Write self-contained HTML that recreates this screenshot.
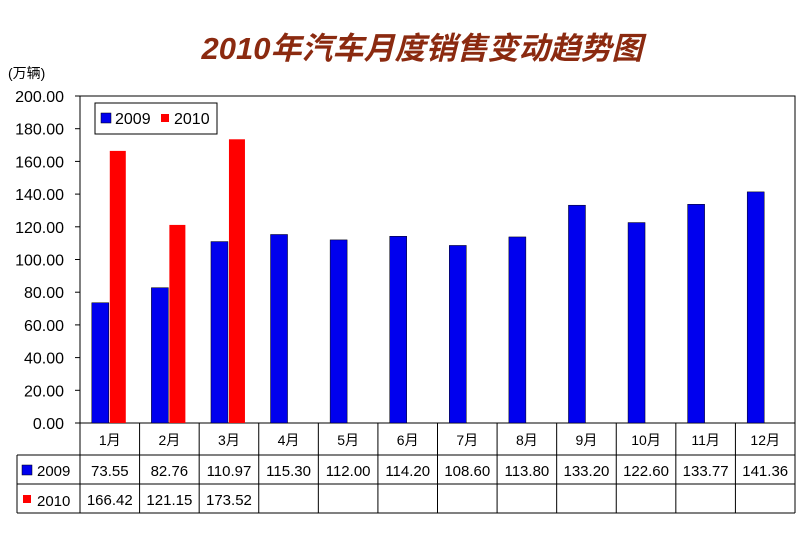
<!DOCTYPE html>
<html><head><meta charset="utf-8"><style>
body{margin:0;background:#fff;}
svg text{font-family:"Liberation Sans","Noto Sans CJK SC",sans-serif;}
</style></head><body>
<svg id="c" width="800" height="537" xmlns="http://www.w3.org/2000/svg">
<text x="422" y="59" text-anchor="middle" font-size="31" font-style="italic" font-weight="bold" fill="#8B2A10">2010年汽车月度销售变动趋势图</text>
<text x="8" y="78" font-size="14" fill="#000">(万辆)</text>
<g id="g"></g>
</svg>
<script>
const categories=["1月","2月","3月","4月","5月","6月","7月","8月","9月","10月","11月","12月"];
const s2009=[73.55,82.76,110.97,115.30,112.00,114.20,108.60,113.80,133.20,122.60,133.77,141.36];
const s2010=[166.42,121.15,173.52,null,null,null,null,null,null,null,null,null];
const yTicks=[0,20,40,60,80,100,120,140,160,180,200];
const NS="http://www.w3.org/2000/svg";
const g=document.getElementById('g');
const L=80,R=795,T=96,B=423,cw=(R-L)/categories.length;
const y=v=>B-(v/200)*(B-T);
const x=i=>L+i*cw;
function mk(t,a,txt){const e=document.createElementNS(NS,t);for(const k in a)e.setAttribute(k,a[k]);if(txt!=null)e.textContent=txt;g.appendChild(e);return e;}
let e=mk('rect',{x:L,y:T,width:R-L,height:B-T,fill:'#fff',stroke:'#000','stroke-width':1});


yTicks.forEach(v=>{
 let t=mk('text',{x:64,y:y(v)+6,'font-size':16,'text-anchor':'end'},v.toFixed(2));
 
 
 mk('line',{x1:L-5,x2:L,y1:y(v),y2:y(v),stroke:'#000'});
});
categories.forEach((c,i)=>{
 const cx=x(i)+cw/2;
 let b=mk('rect',{x:cx-18,y:y(s2009[i]),width:17,height:B-y(s2009[i]),fill:'#0000EE',stroke:'#000','stroke-width':0.5});
 
 
 if(s2010[i]!=null){
  let r=mk('rect',{x:cx,y:y(s2010[i]),width:16,height:B-y(s2010[i]),fill:'#FF0000'});
  
  
 }
 let t=mk('text',{x:cx,y:445,'font-size':14,'text-anchor':'middle'},c);
 
 
 let a=mk('text',{x:cx,y:476,'font-size':15,'text-anchor':'middle'},s2009[i].toFixed(2));
 
 
 if(s2010[i]!=null){
  let bt=mk('text',{x:cx,y:505,'font-size':15,'text-anchor':'middle'},s2010[i].toFixed(2));
  
  
 }
});
for(let i=0;i<=categories.length;i++)mk('line',{x1:x(i),x2:x(i),y1:B,y2:513,stroke:'#000'});
mk('line',{x1:17,x2:17,y1:455,y2:513,stroke:'#000'});
[455,484,513].forEach(yy=>mk('line',{x1:17,x2:R,y1:yy,y2:yy,stroke:'#000'}));
mk('rect',{x:22,y:465,width:10,height:10,fill:'#0000EE',stroke:'#000','stroke-width':0.5});
let l1=mk('text',{x:37,y:476,'font-size':15},'2009');


mk('rect',{x:23,y:495,width:8,height:8,fill:'#FF0000'});
let l2=mk('text',{x:37,y:506,'font-size':15},'2010');


let lg=mk('rect',{x:95,y:103,width:122,height:31,fill:'#fff',stroke:'#000'});


mk('rect',{x:101,y:113,width:10,height:10,fill:'#0000EE',stroke:'#000','stroke-width':0.5});
let le1=mk('text',{x:115,y:124,'font-size':16},'2009');


mk('rect',{x:161,y:114,width:8,height:8,fill:'#FF0000'});
let le2=mk('text',{x:174,y:124,'font-size':16},'2010');


</script>
</body></html>
